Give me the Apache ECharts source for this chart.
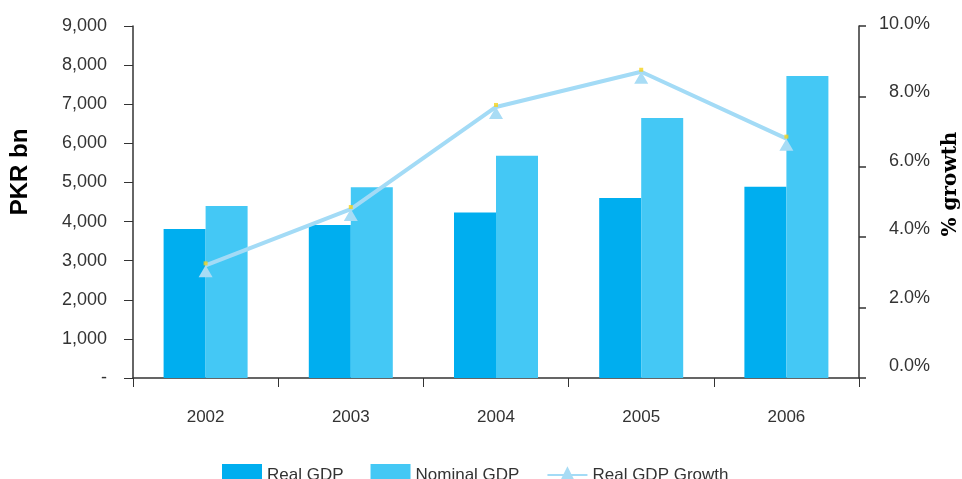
<!DOCTYPE html>
<html>
<head>
<meta charset="utf-8">
<script src="https://cdn.jsdelivr.net/npm/echarts@6/dist/echarts.min.js"></script>
<style>html,body{margin:0;padding:0;background:#fff}#c{width:962px;height:479px}</style>
</head>
<body>
<div id="c"></div>
<script>
const categories = ['2002', '2003', '2004', '2005', '2006'];
const realGDP = [3810, 3910, 4230, 4600, 4890];
const nominalGDP = [4400, 4880, 5680, 6650, 7720];
const realGrowth = [3.2, 4.8, 7.7, 8.7, 6.8];
const leftTicks = { min: 0, max: 9000, interval: 1000 };
const rightTicks = { min: 0, max: 10, interval: 2 };

const FONT = '"Liberation Sans", Arial, sans-serif';
const AX = '#333333';
const chart = echarts.init(document.getElementById('c'), null, { renderer: 'canvas' });

chart.setOption({
  animation: false,
  backgroundColor: '#ffffff',
  grid: [
    { left: 133, right: 103, top: 26, bottom: 101 },
    { left: 133, right: 103, top: 24, bottom: 113 }
  ],
  legend: {
    left: 222, top: 464, padding: 0,
    itemWidth: 40, itemHeight: 22, itemGap: 27,
    textStyle: { fontFamily: FONT, fontSize: 17, color: '#333' },
    data: [
      { name: 'Real GDP', icon: 'rect' },
      { name: 'Nominal GDP', icon: 'rect' },
      { name: 'Real GDP Growth' }
    ]
  },
  xAxis: [
    {
      type: 'category', data: categories, gridIndex: 0,
      axisLine: { lineStyle: { color: AX, width: 1.5 } },
      axisTick: { show: true, length: 9, lineStyle: { color: AX } },
      axisLabel: { fontFamily: FONT, fontSize: 17, color: '#333', margin: 31 }
    },
    { type: 'category', data: categories, gridIndex: 1, show: false }
  ],
  yAxis: [
    {
      type: 'value', gridIndex: 0, position: 'left',
      min: leftTicks.min, max: leftTicks.max, interval: leftTicks.interval,
      axisLine: { show: true, lineStyle: { color: AX, width: 1.5 } },
      axisTick: { show: true, length: 9, lineStyle: { color: AX } },
      splitLine: { show: false },
      axisLabel: {
        fontFamily: FONT, fontSize: 18, color: '#333', margin: 26,
        formatter: v => v === 0 ? '-' : v.toLocaleString('en-US')
      }
    },
    {
      type: 'value', gridIndex: 0, position: 'right',
      min: rightTicks.min, max: rightTicks.max, interval: rightTicks.interval,
      axisLine: { show: true, lineStyle: { color: AX, width: 1.5 } },
      axisTick: { show: true, inside: false, length: 7, lineStyle: { color: AX, width: 1.5 } },
      splitLine: { show: false },
      axisLabel: { show: false }
    },
    {
      type: 'value', gridIndex: 1, position: 'right',
      min: rightTicks.min, max: rightTicks.max, interval: rightTicks.interval,
      axisLine: { show: false }, axisTick: { show: false }, splitLine: { show: false },
      axisLabel: {
        fontFamily: FONT, fontSize: 18, color: '#333', margin: 71, align: 'right',
        formatter: v => v.toFixed(1) + '%'
      }
    }
  ],
  series: [
    {
      name: 'Real GDP', type: 'bar', data: realGDP, xAxisIndex: 0, yAxisIndex: 0,
      barWidth: 42, barGap: '0%', itemStyle: { color: '#00AEEF' }
    },
    {
      name: 'Nominal GDP', type: 'bar', data: nominalGDP, xAxisIndex: 0, yAxisIndex: 0,
      barWidth: 42, barGap: '0%', itemStyle: { color: '#44C8F5' }
    },
    {
      name: 'Real GDP Growth', type: 'line', data: realGrowth, xAxisIndex: 0, yAxisIndex: 1,
      lineStyle: { color: '#A3DBF6', width: 4 },
      itemStyle: { color: '#A8DCF5' },
      symbol: 'triangle', symbolSize: [14, 12], symbolOffset: [0, 6],
      z: 5
    },
    {
      name: 'Real GDP Growth', type: 'scatter', data: realGrowth, xAxisIndex: 0, yAxisIndex: 1,
      symbol: 'rect', symbolSize: 4, symbolOffset: [0, -2],
      itemStyle: { color: '#F5D21C' }, z: 6, silent: true
    }
  ],
  graphic: [
    {
      type: 'text', x: 20, y: 172, rotation: Math.PI / 2,
      style: { text: 'PKR bn', font: 'bold 24px "Liberation Sans", Arial, sans-serif', fill: '#000', align: 'center', verticalAlign: 'middle' }
    },
    {
      type: 'text', x: 951, y: 184, rotation: Math.PI / 2,
      style: { text: '% growth', font: 'bold 20px "DejaVu Serif", serif', fill: '#000', align: 'center', verticalAlign: 'middle' }
    }
  ]
});
</script>
</body>
</html>
